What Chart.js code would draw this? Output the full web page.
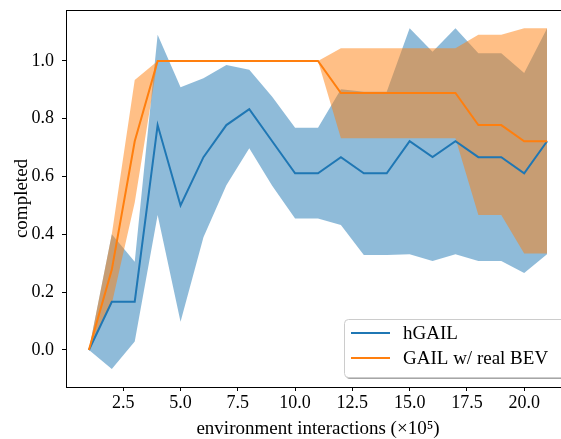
<!DOCTYPE html>
<html lang="en">
<head>
  <meta charset="UTF-8">
  <title>completed vs environment interactions</title>
  <script src="https://cdn.jsdelivr.net/npm/chart.js"></script>
  <style>
    * {
      margin: 0;
      padding: 0;
      box-sizing: border-box;
    }

    html, body {
      width: 561px;
      height: 439px;
      overflow: hidden;
      background: #fff;
    }

    /* canvas is a bit wider than the window: the reference is cropped on the right */
    #chart {
      display: block;
    }
  </style>
</head>
<body>
  <canvas id="chart" width="580" height="439"></canvas>

  <script>
    // x = environment interactions (x10^5)
    const steps = [1, 2, 3, 4, 5, 6, 7, 8, 9, 10, 11, 12, 13, 14, 15, 16, 17, 18, 19, 20, 21];

    const hgailMean = [0, 0.167, 0.167, 0.778, 0.5, 0.667, 0.778, 0.833, 0.722, 0.611, 0.611,
      0.667, 0.611, 0.611, 0.722, 0.667, 0.722, 0.667, 0.667, 0.611, 0.722];
    const hgailUpper = [0, 0.40, 0.305, 1.09, 0.909, 0.94, 0.986, 0.969, 0.876, 0.769, 0.769,
      0.902, 0.893, 0.893, 1.113, 1.032, 1.113, 1.026, 1.026, 0.958, 1.113];
    const hgailLower = [0, -0.066, 0.029, 0.467, 0.098, 0.39, 0.57, 0.698, 0.568, 0.455, 0.455,
      0.432, 0.329, 0.329, 0.331, 0.308, 0.331, 0.308, 0.308, 0.266, 0.331];

    const bevMean = [0, 0.278, 0.722, 1, 1, 1, 1, 1, 1, 1, 1,
      0.889, 0.889, 0.889, 0.889, 0.889, 0.889, 0.778, 0.778, 0.722, 0.722];
    const bevUpper = [0, 0.40, 0.934, 1, 1, 1, 1, 1, 1, 1, 1,
      1.044, 1.044, 1.044, 1.044, 1.044, 1.044, 1.09, 1.09, 1.113, 1.113];
    const bevLower = [0, 0.16, 0.51, 1, 1, 1, 1, 1, 1, 1, 1,
      0.732, 0.732, 0.732, 0.732, 0.732, 0.732, 0.467, 0.467, 0.334, 0.334];

    const xTicks = [2.5, 5, 7.5, 10, 12.5, 15, 17.5, 20];
    const yTicks = [0, 0.2, 0.4, 0.6, 0.8, 1.0];

    const seriesNames = ['hGAIL', 'GAIL w/ real BEV'];
    const blue = '#1f77b4';
    const orange = '#ff7f0e';

    const pts = arr => steps.map((x, i) => ({ x, y: arr[i] }));
    const serif = "'Liberation Serif', 'Times New Roman', serif";

    // frame on all four sides (matplotlib spines)
    const framePlugin = {
      id: 'frame',
      afterDraw(chart) {
        const { ctx, chartArea: a } = chart;
        ctx.save();
        ctx.strokeStyle = '#000';
        ctx.lineWidth = 1;
        ctx.strokeRect(a.left + 0.5, a.top + 0.5, a.right - a.left, a.bottom - a.top);
        ctx.restore();
      }
    };

    // legend in the lower right corner, matplotlib style with a shadow
    const legendPlugin = {
      id: 'mplLegend',
      afterDraw(chart) {
        const { ctx } = chart;
        const x = 344, y = 319, w = 222, h = 58, r = 4;
        ctx.save();
        ctx.fillStyle = 'rgba(0, 0, 0, 0.35)';
        ctx.beginPath();
        ctx.roundRect(x + 2, y + 2, w, h, r);
        ctx.fill();
        ctx.fillStyle = '#fff';
        ctx.strokeStyle = '#cccccc';
        ctx.lineWidth = 1;
        ctx.beginPath();
        ctx.roundRect(x + 0.5, y + 0.5, w, h, r);
        ctx.fill();
        ctx.stroke();

        const colors = [blue, orange];
        ctx.font = '19px ' + serif;
        ctx.textBaseline = 'middle';
        ctx.fillStyle = '#000';
        seriesNames.forEach((name, i) => {
          const ly = 333 + i * 25;
          ctx.strokeStyle = colors[i];
          ctx.lineWidth = 2;
          ctx.beginPath();
          ctx.moveTo(351, ly);
          ctx.lineTo(390, ly);
          ctx.stroke();
          ctx.fillText(name, 403, ly + 1);
        });
        ctx.restore();
      }
    };

    // dataset 0 is drawn on top, the last one at the bottom
    new Chart(document.getElementById('chart'), {
      type: 'line',
      data: {
        datasets: [
          { label: seriesNames[1], data: pts(bevMean), borderColor: orange, borderWidth: 2, fill: false },
          { label: seriesNames[0], data: pts(hgailMean), borderColor: blue, borderWidth: 2, fill: false },
          { data: pts(bevUpper), borderWidth: 0, borderColor: 'transparent', backgroundColor: 'rgba(255, 127, 14, 0.5)', fill: 3 },
          { data: pts(bevLower), borderWidth: 0, borderColor: 'transparent', fill: false },
          { data: pts(hgailUpper), borderWidth: 0, borderColor: 'transparent', backgroundColor: 'rgba(31, 119, 180, 0.5)', fill: 5 },
          { data: pts(hgailLower), borderWidth: 0, borderColor: 'transparent', fill: false }
        ]
      },
      options: {
        responsive: false,
        animation: false,
        elements: { point: { radius: 0 }, line: { tension: 0 } },
        layout: { padding: { top: 10, right: 10, left: 0, bottom: 0 } },
        plugins: {
          legend: { display: false },
          tooltip: { enabled: false }
        },
        scales: {
          x: {
            type: 'linear',
            min: 0,
            max: 22,
            afterBuildTicks: s => { s.ticks = xTicks.map(v => ({ value: v })); },
            afterFit: s => { s.height = 52; s.paddingLeft = 0; s.paddingRight = 0; },
            ticks: {
              color: '#000',
              font: { family: serif, size: 18 },
              padding: 1,
              maxRotation: 0,
              callback: v => v.toFixed(1)
            },
            grid: { drawOnChartArea: false, drawTicks: true, tickLength: 4, color: '#000' },
            border: { display: true, color: '#000' },
            title: {
              display: true,
              text: 'environment interactions (×10⁵)',
              color: '#000',
              font: { family: serif, size: 19, lineHeight: 1 },
              padding: { top: 0, bottom: 0 }
            }
          },
          y: {
            min: -0.128,
            max: 1.176,
            afterBuildTicks: s => { s.ticks = yTicks.map(v => ({ value: v })); },
            afterFit: s => { s.width = 66; s.paddingTop = 0; s.paddingBottom = 0; },
            ticks: {
              color: '#000',
              font: { family: serif, size: 18 },
              padding: 8,
              callback: v => v.toFixed(1)
            },
            grid: { drawOnChartArea: false, drawTicks: true, tickLength: 4, color: '#000' },
            border: { display: true, color: '#000' },
            title: {
              display: true,
              text: 'completed',
              color: '#000',
              font: { family: serif, size: 19, lineHeight: 1 },
              padding: { top: 13, bottom: 0 }
            }
          }
        }
      },
      plugins: [framePlugin, legendPlugin]
    });
  </script>
</body>
</html>
